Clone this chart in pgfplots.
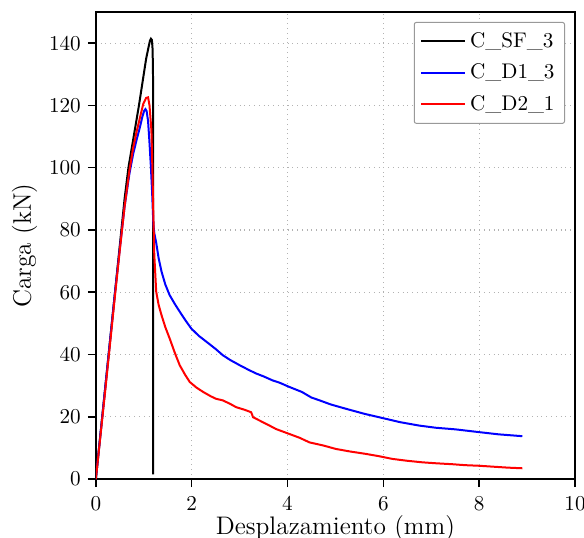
\documentclass[border=0pt]{standalone}
\usepackage{fontspec}
\usepackage{pgfplots}
\pgfplotsset{compat=1.18}
\begin{document}
\begin{tikzpicture}
\begin{axis}[
  scale only axis,
  width=240pt, height=234pt,
  xmin=0, xmax=10, ymin=0, ymax=150,
  xtick={0,2,4,6,8,10},
  ytick={0,20,40,60,80,100,120,140},
  /pgf/number format/assume math mode=true,
  tick align=outside,
  tick pos=left,
  major tick length=4pt,
  axis line style={line width=0.9pt},
  every tick/.style={black, line width=0.8pt},
  grid=major,
  major grid style={gray!60, dotted, line width=0.6pt},
  tick label style={font=\fontsize{10.6}{12}\selectfont},
  xticklabel style={inner sep=0.5pt, yshift=-3.8pt},
  label style={font=\fontsize{12.7}{15}\selectfont},
  xlabel={Desplazamiento (mm)},
  ylabel={Carga (kN)},
  xlabel style={at={(axis description cs:0.5,0)}, anchor=base, inner sep=0.5pt, yshift=-27.5pt},
  ylabel style={yshift=-1pt},
  legend style={at={(rel axis cs:1,1)}, anchor=north east, xshift=-5pt, yshift=-5pt,
    draw=gray!80, fill=white, rounded corners=1pt, line width=0.5pt,
    font=\fontsize{10.6}{12}\selectfont, row sep=2.8pt, inner xsep=3pt, inner ysep=3pt},
  legend cell align=left,
  legend image code/.code={\draw[#1] (0pt,0pt) -- (22pt,0pt);},
]
\addplot[black, line width=1pt] coordinates {
(0,0)(0.1,15)(0.2,30)(0.3,45)(0.4,60)(0.5,75)(0.6,90)(0.68,100)(0.79,110)(0.9,120)(0.99,129)(1.05,135)(1.1,138.7)(1.13,140.8)(1.15,141.4)(1.17,141)(1.185,138)(1.193,130)(1.195,100)(1.195,50)(1.195,1.5)
};
\addlegendentry{C\_SF\_3}
\addplot[blue, line width=1pt] coordinates {
(0,0)(0.1,15)(0.2,30)(0.3,45)(0.4,60)(0.5,74)(0.6,87.5)(0.7,98)(0.78,104.5)(0.86,109.5)(0.92,113)(0.97,116.3)(1.01,118.3)(1.035,118.8)(1.06,118.2)(1.09,115)(1.12,108)(1.15,100)(1.175,92)(1.19,86)(1.2,82)(1.22,79)(1.26,75.9)(1.31,71)(1.37,66.7)(1.45,62.5)(1.54,59.1)(1.65,56.2)(1.75,53.8)(1.87,51)(1.99,48.4)(2.15,46)(2.31,44.1)(2.5,41.8)(2.65,39.8)(2.8,38.3)(3.0,36.6)(3.2,35)(3.35,33.9)(3.5,33)(3.69,31.7)(3.83,31)(4.04,29.6)(4.3,28)(4.5,26.2)(4.67,25.3)(4.9,24)(5.22,22.6)(5.6,21)(5.99,19.6)(6.35,18.3)(6.75,17.2)(7.1,16.5)(7.5,16)(8.0,15.1)(8.4,14.4)(8.9,13.8)
};
\addlegendentry{C\_D1\_3}
\addplot[red, line width=1pt] coordinates {
(0,0)(0.1,14.5)(0.2,29)(0.3,44)(0.4,59)(0.5,73.5)(0.6,87.5)(0.7,99)(0.78,106.5)(0.85,111.5)(0.92,116)(0.99,120.5)(1.05,122.4)(1.09,122.6)(1.12,120)(1.16,112)(1.18,100)(1.2,85)(1.22,72)(1.26,60.2)(1.31,56)(1.37,52.7)(1.45,48.8)(1.54,45.2)(1.65,40.5)(1.75,36.6)(1.86,33.6)(1.96,31.2)(2.1,29.4)(2.24,28)(2.4,26.6)(2.51,25.8)(2.65,25.3)(2.8,24.2)(2.93,23.1)(3.1,22.3)(3.24,21.5)(3.26,20.8)(3.28,19.9)(3.42,18.8)(3.6,17.4)(3.76,16.1)(3.9,15.3)(4.04,14.5)(4.25,13.3)(4.46,11.8)(4.75,10.8)(5.01,9.7)(5.3,8.9)(5.64,8.1)(5.9,7.4)(6.19,6.5)(6.5,5.9)(6.82,5.4)(7.1,5.1)(7.44,4.8)(7.7,4.5)(8.0,4.3)(8.3,4.0)(8.6,3.7)(8.9,3.5)
};
\addlegendentry{C\_D2\_1}
\end{axis}
\pgfresetboundingbox
\path ([xshift=-48pt,yshift=-29pt]current axis.south west) rectangle ([xshift=4.5pt,yshift=6pt]current axis.north east);
\end{tikzpicture}
\end{document}
